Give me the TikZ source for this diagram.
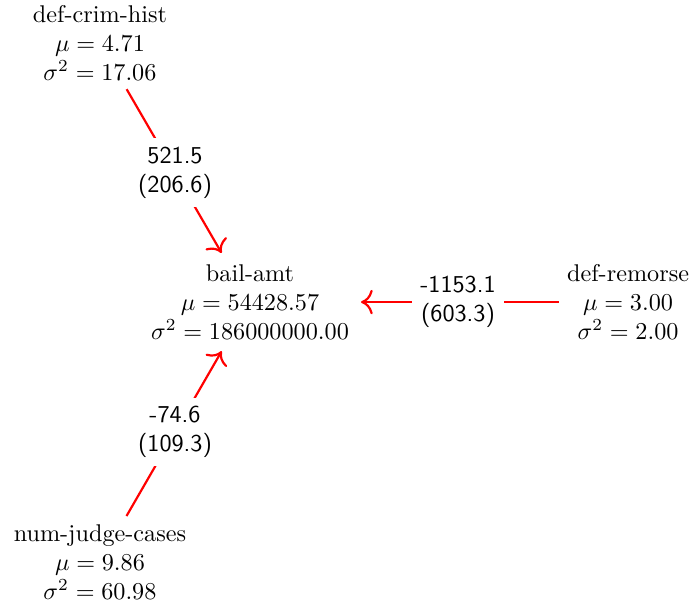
\documentclass[tikz,border=0pt]{standalone}
\usepackage{tikz}
\usetikzlibrary{arrows,arrows.meta}
\usepackage{amsmath,amssymb}

\begin{document}
\begin{tikzpicture}
    \tikzstyle{var} = [align=center,inner sep=3.33pt]
\tikzstyle{effect} = [-{To[scale=1.35]},red,line width=0.9pt,shorten >=1.5pt]
\tikzstyle{elabel} = [fill=white,text=black,align=center,font=\sffamily,inner sep=3.5pt]

\useasboundingbox (0,0) rectangle (285.5pt,-249.6pt);

\node[var] (crim) at (41.3pt,-17.8pt) {def-crim-hist\\ \(\mu = 4.71\)\\ \(\sigma^2 = 17.06\)};
\node[var] (bail) at (103.3pt,-124.8pt) {bail-amt\\ \(\mu = 54428.57\)\\ \(\sigma^2 = 186000000.00\)};
\node[var] (remorse) at (259.5pt,-124.8pt) {def-remorse\\ \(\mu = 3.00\)\\ \(\sigma^2 = 2.00\)};
\node[var] (judge) at (41.3pt,-232.2pt) {num-judge-cases\\ \(\mu = 9.86\)\\ \(\sigma^2 = 60.98\)};

\draw[effect] (crim) -- node[elabel] (e1) {521.5\\(206.6)} (bail);
\draw[effect] (remorse) -- node[elabel] (e2) {-1153.1\\(603.3)} (bail);
\draw[effect] (judge) -- node[elabel] (e3) {-74.6\\(109.3)} (bail);
\end{tikzpicture}
\end{document}
